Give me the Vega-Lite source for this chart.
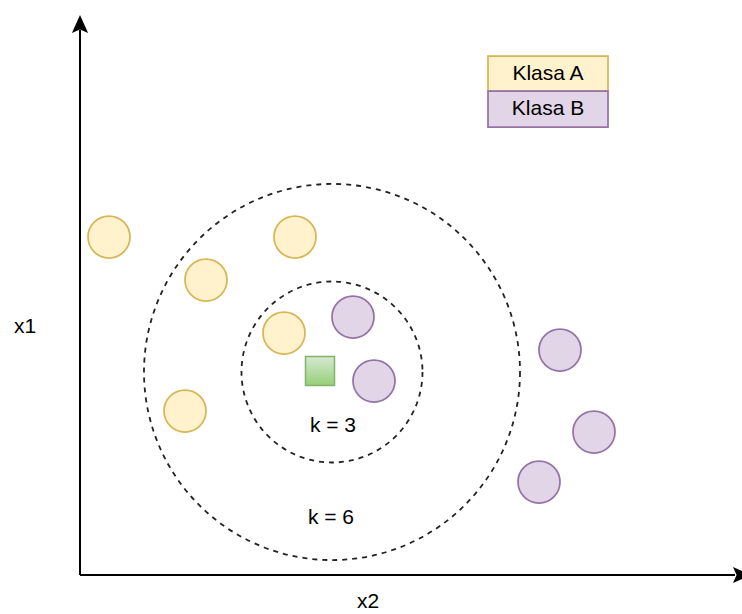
{
  "$schema": "https://vega.github.io/schema/vega-lite/v6.json",
  "width": 742,
  "height": 614,
  "autosize": {"type": "none"},
  "padding": 0,
  "background": "white",
  "config": {"view": {"stroke": null}},
  "datasets": {
    "points": [
      {"klasa": "Klasa A", "x": 29, "y": 338},
      {"klasa": "Klasa A", "x": 126, "y": 295},
      {"klasa": "Klasa A", "x": 215, "y": 338},
      {"klasa": "Klasa A", "x": 204, "y": 242},
      {"klasa": "Klasa A", "x": 105, "y": 164},
      {"klasa": "Klasa B", "x": 273, "y": 258},
      {"klasa": "Klasa B", "x": 294, "y": 194},
      {"klasa": "Klasa B", "x": 480, "y": 225},
      {"klasa": "Klasa B", "x": 514, "y": 143},
      {"klasa": "Klasa B", "x": 459, "y": 93}
    ],
    "query": [{"x": 240, "y": 204}],
    "neigh": [
      {"k": 3, "x": 252, "y": 203, "lx": 253, "ly": 149, "label": "k = 3"},
      {"k": 6, "x": 252, "y": 203, "lx": 251, "ly": 57, "label": "k = 6"}
    ],
    "axes": [
      {"x": 0, "y": 0, "x2": 655, "y2": 0},
      {"x": 0, "y": 0, "x2": 0, "y2": 545}
    ],
    "heads": [
      {"dir": "up", "x": 0, "y": 551},
      {"dir": "right", "x": 662, "y": 0}
    ],
    "axislabels": [
      {"label": "x1", "x": -55, "y": 248},
      {"label": "x2", "x": 288, "y": -27}
    ],
    "legend": [
      {"klasa": "Klasa A", "x": 408, "x2": 528, "y": 484, "y2": 519, "tx": 468, "ty": 501},
      {"klasa": "Klasa B", "x": 408, "x2": 528, "y": 448, "y2": 484, "tx": 468, "ty": 466}
    ]
  },
  "encoding": {
    "x": {"type": "quantitative", "scale": {"domain": [-80, 662], "nice": false, "zero": false}, "axis": null},
    "y": {"type": "quantitative", "scale": {"domain": [-39, 575], "nice": false, "zero": false}, "axis": null}
  },
  "layer": [
    {
      "data": {"name": "axes"},
      "mark": {"type": "rule", "color": "#000000", "strokeWidth": 2},
      "encoding": {
        "x": {"field": "x", "type": "quantitative"},
        "y": {"field": "y", "type": "quantitative"},
        "x2": {"field": "x2"},
        "y2": {"field": "y2"}
      }
    },
    {
      "data": {"name": "heads"},
      "mark": {"type": "point", "filled": true, "color": "#000000", "size": 324, "opacity": 1},
      "encoding": {
        "x": {"field": "x", "type": "quantitative"},
        "y": {"field": "y", "type": "quantitative"},
        "shape": {"field": "dir", "type": "nominal", "scale": {"domain": ["up", "right"], "range": ["M0,-1L0.9,1L0,0.6L-0.9,1Z", "M1,0L-1,0.9L-0.6,0L-1,-0.9Z"]}, "legend": null}
      }
    },
    {
      "data": {"name": "neigh"},
      "transform": [{"filter": "datum.k == 3"}],
      "mark": {"type": "point", "shape": "circle", "filled": false, "size": 32761, "stroke": "#222222", "strokeWidth": 1.8, "strokeDash": [5, 5], "opacity": 1},
      "encoding": {
        "x": {"field": "x", "type": "quantitative"},
        "y": {"field": "y", "type": "quantitative"}
      }
    },
    {
      "data": {"name": "neigh"},
      "transform": [{"filter": "datum.k == 6"}],
      "mark": {"type": "point", "shape": "circle", "filled": false, "size": 141376, "stroke": "#222222", "strokeWidth": 1.8, "strokeDash": [5, 5], "opacity": 1},
      "encoding": {
        "x": {"field": "x", "type": "quantitative"},
        "y": {"field": "y", "type": "quantitative"}
      }
    },
    {
      "data": {"name": "neigh"},
      "mark": {"type": "text", "font": "Liberation Sans", "fontSize": 21, "color": "#000000", "align": "center", "baseline": "middle"},
      "encoding": {
        "x": {"field": "lx", "type": "quantitative"},
        "y": {"field": "ly", "type": "quantitative"},
        "text": {"field": "label"}
      }
    },
    {
      "data": {"name": "points"},
      "mark": {"type": "point", "shape": "circle", "filled": true, "size": 1764, "strokeWidth": 1.75, "opacity": 1, "fillOpacity": 1},
      "encoding": {
        "x": {"field": "x", "type": "quantitative"},
        "y": {"field": "y", "type": "quantitative"},
        "fill": {"field": "klasa", "type": "nominal", "scale": {"domain": ["Klasa A", "Klasa B"], "range": ["#fff2cc", "#e1d5e7"]}, "legend": null},
        "stroke": {"field": "klasa", "type": "nominal", "scale": {"domain": ["Klasa A", "Klasa B"], "range": ["#d6b656", "#9673a6"]}, "legend": null}
      }
    },
    {
      "data": {"name": "query"},
      "mark": {"type": "point", "shape": "square", "filled": true, "size": 841, "opacity": 1, "stroke": "#82b366", "strokeWidth": 1.5,
        "fill": {"gradient": "linear", "x1": 0, "y1": 0, "x2": 0, "y2": 1, "stops": [{"offset": 0, "color": "#d5e8d4"}, {"offset": 1, "color": "#97d077"}]}},
      "encoding": {
        "x": {"field": "x", "type": "quantitative"},
        "y": {"field": "y", "type": "quantitative"}
      }
    },
    {
      "data": {"name": "legend"},
      "mark": {"type": "rect", "strokeWidth": 1.75},
      "encoding": {
        "x": {"field": "x", "type": "quantitative"},
        "x2": {"field": "x2"},
        "y": {"field": "y", "type": "quantitative"},
        "y2": {"field": "y2"},
        "fill": {"field": "klasa", "type": "nominal", "scale": {"domain": ["Klasa A", "Klasa B"], "range": ["#fff2cc", "#e1d5e7"]}, "legend": null},
        "stroke": {"field": "klasa", "type": "nominal", "scale": {"domain": ["Klasa A", "Klasa B"], "range": ["#d6b656", "#9673a6"]}, "legend": null}
      }
    },
    {
      "data": {"name": "legend"},
      "mark": {"type": "text", "font": "Liberation Sans", "fontSize": 21, "color": "#000000", "align": "center", "baseline": "middle"},
      "encoding": {
        "x": {"field": "tx", "type": "quantitative"},
        "y": {"field": "ty", "type": "quantitative"},
        "text": {"field": "klasa"}
      }
    },
    {
      "data": {"name": "axislabels"},
      "mark": {"type": "text", "font": "Liberation Sans", "fontSize": 21, "color": "#000000", "align": "center", "baseline": "middle"},
      "encoding": {
        "x": {"field": "x", "type": "quantitative"},
        "y": {"field": "y", "type": "quantitative"},
        "text": {"field": "label"}
      }
    }
  ]
}
